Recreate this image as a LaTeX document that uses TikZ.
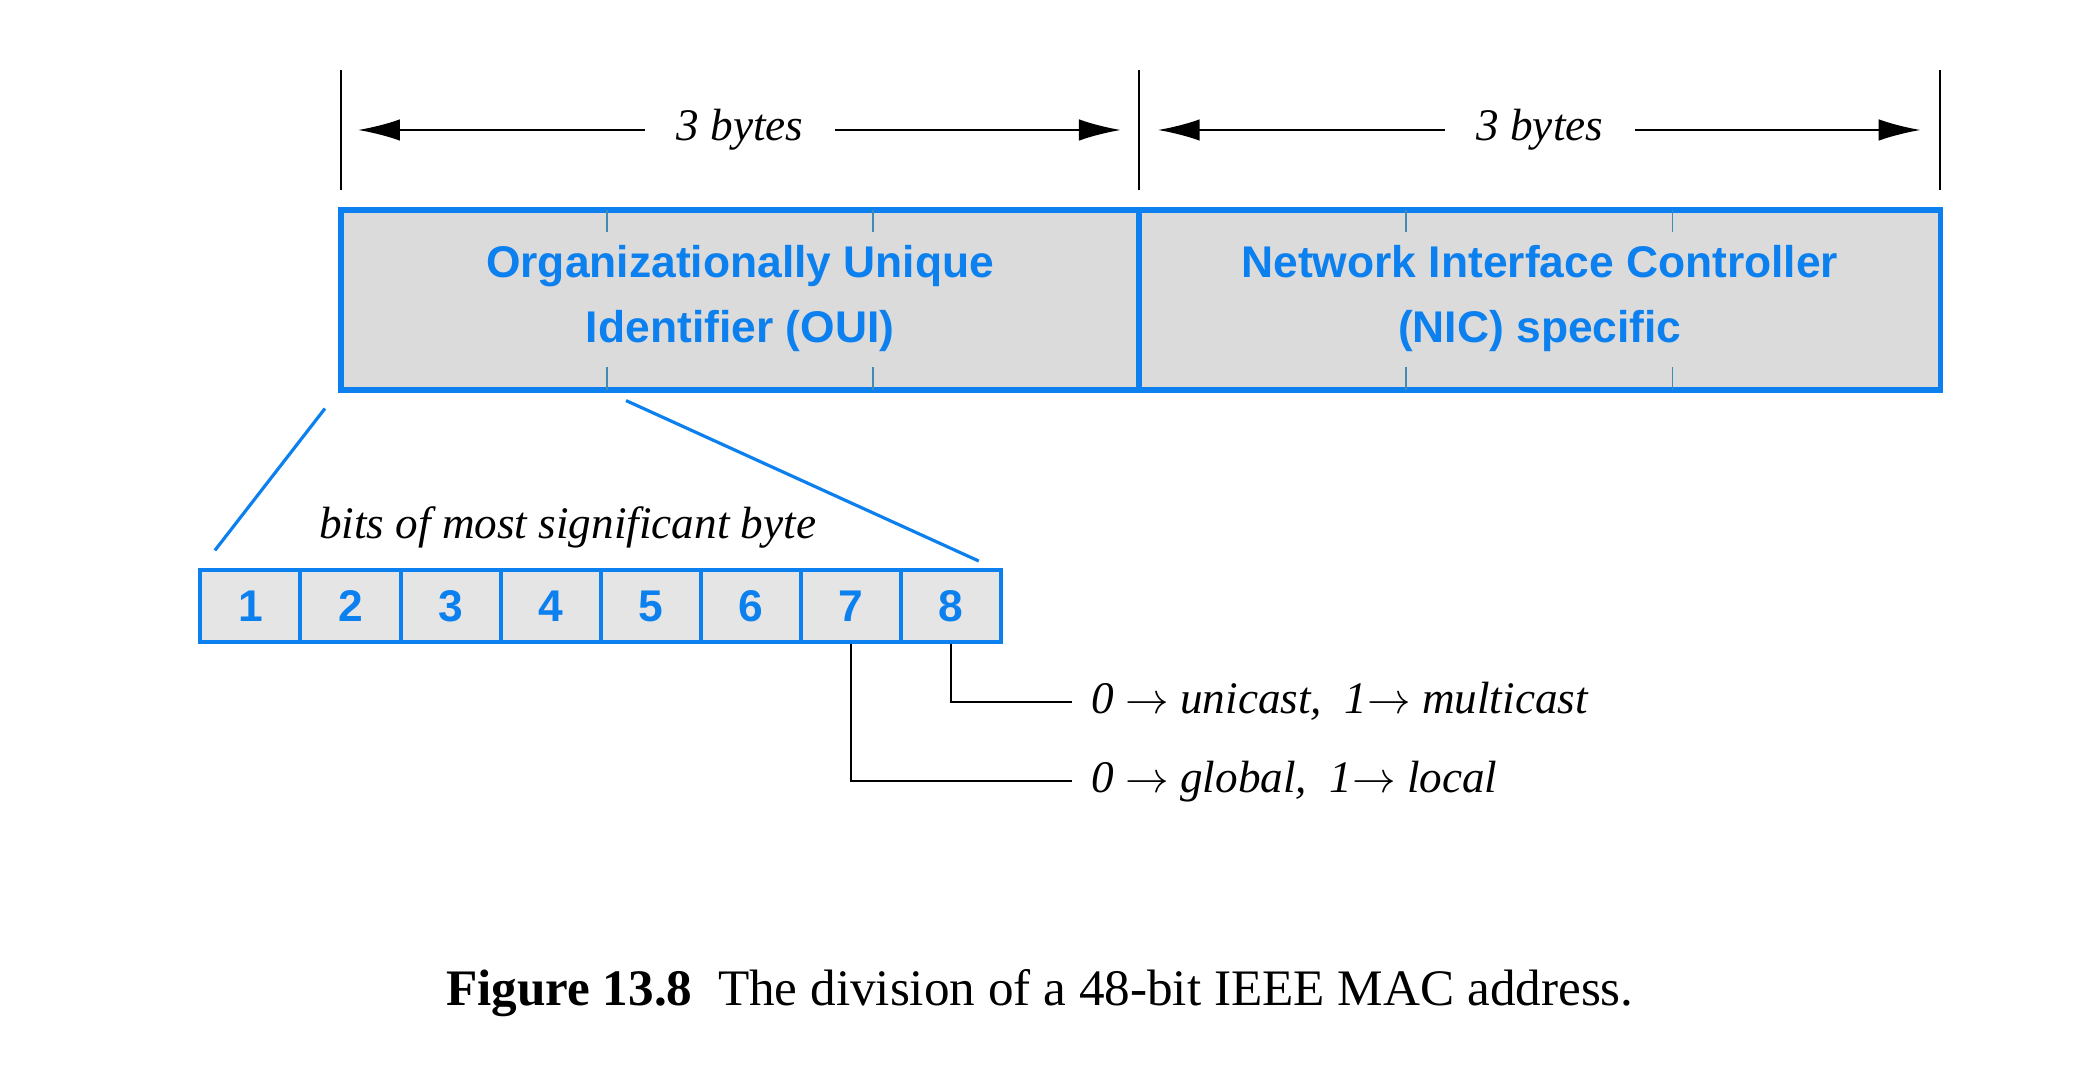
\documentclass[tikz,border=0pt]{standalone}
\usepackage[x11names, svgnames, rgb]{xcolor}
\usepackage{fontspec}
\setmainfont{Liberation Serif}
\newfontfamily\helvfont{Liberation Sans}
\usepackage{tikz}
\usetikzlibrary{arrows.meta,shapes}
\usepackage{amsmath}

\definecolor{macblue}{RGB}{12,128,238}
\definecolor{fieldgray}{RGB}{219,219,219}
\definecolor{bitgray}{RGB}{229,229,229}
\definecolor{tickcol}{RGB}{66,140,178}

\begin{document}
\begin{tikzpicture}[x=0.3332pt,y=-0.3332pt,>={Latex[length=10.5pt,width=5.4pt]},
		field/.style={draw=macblue,line width=1.5pt,fill=fieldgray,inner sep=0pt,minimum height=45.3pt},
		fieldtext/.style={text=macblue,align=center,inner sep=0pt,font=\helvfont\bfseries\fontsize{11.15}{16.3}\selectfont},
		bitbox/.style={draw=macblue,line width=1pt,fill=bitgray,text=macblue,inner sep=0pt,minimum width=25.16pt,minimum height=18pt,font=\helvfont\bfseries\fontsize{11.15}{13}\selectfont},
		lbl/.style={font=\itshape\fontsize{11.35}{13}\selectfont}]
		\useasboundingbox (0,0) rectangle (1567.5,805.3);
		%%
		\node (oui) at (558,226) [field,minimum width=200.6pt] {};
		  \node (nic) at (1161,226) [field,minimum width=201.3pt] {};
		  \node (ouitxt) at (558,225) [fieldtext] {Organizationally Unique\\Identifier (OUI)};
		  \node (nictxt) at (1161,225) [fieldtext] {Network Interface Controller\\(NIC) specific};
		  \foreach \x in {458,658,1060,1261} {
		    \draw [tickcol,line width=0.5pt] (\x,158) -- (\x,175);
		    \draw [tickcol,line width=0.5pt] (\x,277) -- (\x,294);
		  }
		%% byte counts
		  \foreach \x in {257,859,1463} \draw [line width=0.5pt] (\x,53) -- (\x,143);
		  \node (ouibytes) at (558,98) [lbl,inner xsep=7.8pt] {3 bytes};
		  \node (nicbytes) at (1161,98) [lbl,inner xsep=7.8pt] {3 bytes};
		  \coordinate (ouil) at (270,98);
		  \coordinate (ouir) at (845,98);
		  \coordinate (nicl) at (873,98);
		  \coordinate (nicr) at (1448,98);
		  \draw [->,line width=0.5pt] (ouibytes) -- (ouil);
		  \draw [->,line width=0.5pt] (ouibytes) -- (ouir);
		  \draw [->,line width=0.5pt] (nicbytes) -- (nicl);
		  \draw [->,line width=0.5pt] (nicbytes) -- (nicr);
		%% first byte
		  \node (bitslbl) at (428,398) [lbl] {bits of most significant byte};
		  \foreach \i in {1,...,8} \node (bit\i) at ({151+75.5*(\i-0.5)},457) [bitbox] {\i};
		  \coordinate (zoomA) at (245,308);
		  \coordinate (zoomB) at (162,415);
		  \coordinate (zoomC) at (472,302);
		  \coordinate (zoomD) at (738,423);
		  \draw [macblue,line width=0.8pt] (zoomA) -- (zoomB);
		  \draw [macblue,line width=0.8pt] (zoomC) -- (zoomD);
		  \node (unilbl) at (808,529) [lbl,anchor=west,inner xsep=4.8pt] {0 $\rightarrow$ unicast,\ \ 1$\rightarrow$ multicast};
		  \node (glolbl) at (808,589) [lbl,anchor=west,inner xsep=4.8pt] {0 $\rightarrow$ global,\ \ 1$\rightarrow$ local};
		  \draw [line width=0.5pt] (bit8.south) |- (unilbl.west);
		  \draw [line width=0.5pt] (bit7.south) |- (glolbl.west);
		%
		  \node (caption) at (784,749) [font=\fontsize{12.86}{15}\selectfont] {\textbf{Figure 13.8}\ \ The division of a 48-bit IEEE MAC address.};
		%
	\end{tikzpicture}
\end{document}
